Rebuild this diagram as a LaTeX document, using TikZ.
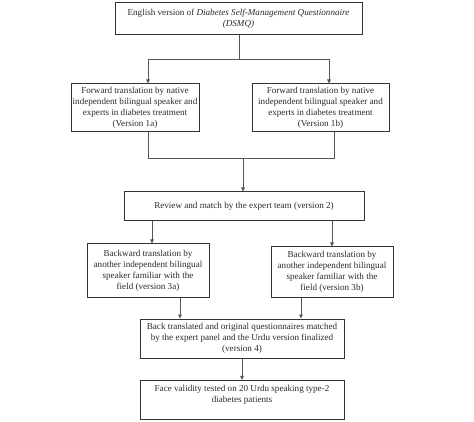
\documentclass[tikz,border=0pt]{standalone}
\usepackage{fontspec}
\setmainfont{Liberation Serif}
\usetikzlibrary{arrows.meta}
\definecolor{ln}{HTML}{555555}
\definecolor{bx}{HTML}{333333}
\definecolor{tx}{HTML}{2A2A2A}
\tikzset{
  box/.style={draw=bx, line width=1pt, rectangle, align=center, text=tx,
    font=\fontsize{9.1}{10.9}\selectfont, inner sep=1pt},
  conn/.style={draw=ln, line width=0.8pt},
  arr/.style={conn, -{Triangle[length=4pt,width=3.6pt]}}
}
\begin{document}
\begin{tikzpicture}[x=1pt,y=-1pt]
\useasboundingbox (0,0) rectangle (474,422);
\node[box, minimum width=247pt, minimum height=32pt] (b1) at (238.5,19)
  {English version of \textit{Diabetes Self-Management Questionnaire}\\\textit{(DSMQ)}};
\node[box, minimum width=128pt, minimum height=48pt] (b1a) at (135,108)
  {Forward translation by native\\independent bilingual speaker and\\experts in diabetes treatment\\(Version 1a)};
\node[box, minimum width=137pt, minimum height=48pt] (b1b) at (320.5,108)
  {Forward translation by native\\independent bilingual speaker and\\experts in diabetes treatment\\(Version 1b)};
\node[box, minimum width=240pt, minimum height=29pt] (b2) at (244,206.5)
  {Review and match by the expert team (version 2)};
\node[box, minimum width=122pt, minimum height=53pt] (b3a) at (148,270.5)
  {Backward translation by\\another independent bilingual\\speaker familiar with the\\field (version 3a)};
\node[box, minimum width=122pt, minimum height=50pt] (b3b) at (332,272)
  {Backward translation by\\another independent bilingual\\speaker familiar with the\\field (version 3b)};
\node[box, minimum width=204pt, minimum height=39pt] (b4) at (242,338.5)
  {Back translated and original questionnaires matched\\by the expert panel and the Urdu version finalized\\(version 4)};
\node[box, minimum width=204pt, minimum height=38pt, inner ysep=5pt, text depth=12pt] (b5) at (242,400)
  {Face validity tested on 20 Urdu speaking type-2\\diabetes patients};
\draw[bx, line width=1.6pt] ([yshift=0.6pt]b5.south west) -- ([yshift=0.6pt]b5.south east);
% level 1 -> 1a/1b
\coordinate (j1) at (239,59);
\coordinate (ja) at (148,59);
\coordinate (jb) at (329,59);
\draw[conn] (j1 |- b1.south) -- (j1);
\draw[conn] (ja) -- (jb);
\draw[arr] (ja) -- (ja |- b1a.north);
\draw[arr] (jb) -- (jb |- b1b.north);
% 1a/1b -> 2
\coordinate (ka) at (148,158);
\coordinate (kb) at (334,158);
\coordinate (kc) at (243,158);
\draw[conn] (ka |- b1a.south) -- (ka) -- (kb) -- (kb |- b1b.south);
\draw[arr] (kc) -- (kc |- b2.north);
% 2 -> 3a/3b
\coordinate (ma) at (152,221);
\coordinate (mb) at (332,221);
\draw[arr] (ma |- b2.south) -- (ma |- b3a.north);
\draw[arr] (mb |- b2.south) -- (mb |- b3b.north);
% 3a/3b -> 4
\coordinate (na) at (180,300);
\coordinate (nb) at (301,300);
\draw[arr] (na |- b3a.south) -- (na |- b4.north);
\draw[arr] (nb |- b3b.south) -- (nb |- b4.north);
% 4 -> 5
\coordinate (pa) at (242,360);
\draw[arr] (pa |- b4.south) -- (pa |- b5.north);
\end{tikzpicture}
\end{document}
